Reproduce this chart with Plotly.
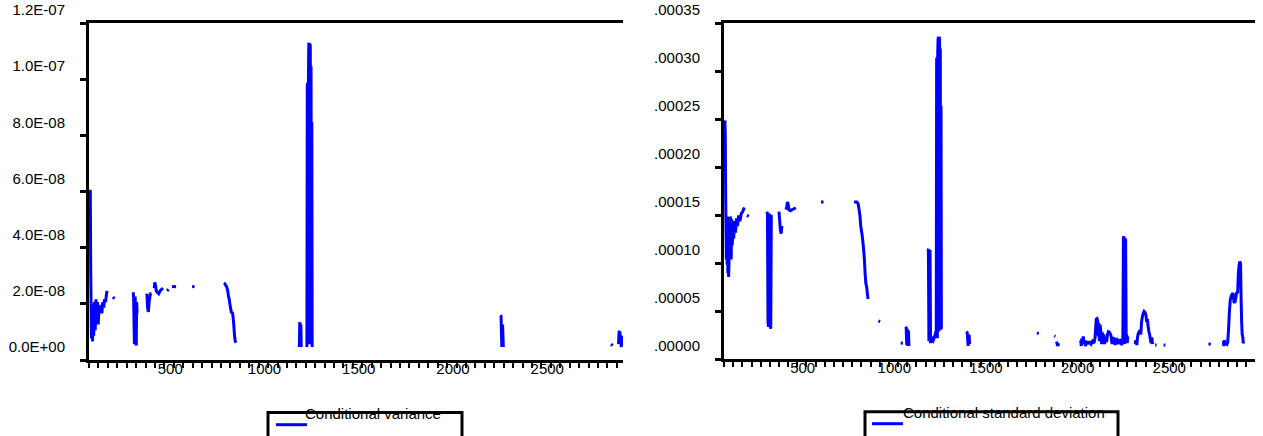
import plotly.graph_objects as go

# ---------------- data ----------------
# Conditional variance (left panel); None = missing observations (gaps)
var_obs = [76, 77, 79, 81, 83, 86, 89, 92, 95, 99, 103, 107, 111, 115, 119, 123, 128, 133, 138, 143, 148, 153, 158, 163, 166, None,
           197, 205, None,
           305, 307, 309, 311, 313, 315, 317, 319, 321, 323, 325, None,
           377, 381, 385, 389, 393, 397, 401, None,
           416, 419, 423, 427, 432, 440, 447, 455, 462, None,
           484, 492, None,
           510, 532, None,
           617, 630, None,
           786, 790, 795, 800, 806, 810, 814, 818, 822, 826, 830, 834, 838, 842, 846, 850, None,
           1186, 1188, 1190, 1192, 1194, 1196, None,
           1226, 1228, 1230, 1232, 1234, 1236, 1238, 1240, 1242, 1244, 1246, 1248, 1250, 1252, 1254, None,
           2252, 2256, 2260, 2264, 2268, None,
           2840, 2848, None,
           2879, 2882, 2886, 2890, 2894, 2898, 2902]
var_vals = [5.6e-8, 5.5e-8, 2.8e-8, 1.6e-8, 3e-9, 1.3e-8, 2e-9, 1.5e-8, 4e-9, 1.6e-8, 6e-9, 1.7e-8, 1.0e-8, 1.6e-8, 8e-9, 1.4e-8, 1.2e-8, 1.5e-8, 1.2e-8, 1.6e-8, 1.4e-8, 1.7e-8, 1.6e-8, 1.9e-8, 2.0e-8, None,
            1.78e-8, 1.72e-8, None,
            1.95e-8, 1.7e-8, 8e-9, 1e-9, 1.5e-8, 1.8e-8, 1.0e-8, 2e-9, 5e-10, 1.6e-8, 1.2e-8, None,
            1.9e-8, 1.4e-8, 1.25e-8, 1.6e-8, 1.8e-8, 1.9e-8, 1.9e-8, None,
            2.1e-8, 2.3e-8, 2.2e-8, 2.0e-8, 1.95e-8, 1.9e-8, 2.0e-8, 2.05e-8, 2.1e-8, None,
            2.0e-8, 2.05e-8, None,
            2.15e-8, 2.15e-8, None,
            2.15e-8, 2.15e-8, None,
            2.28e-8, 2.26e-8, 2.2e-8, 2.15e-8, 2.0e-8, 1.8e-8, 1.7e-8, 1.5e-8, 1.35e-8, 1.2e-8, 1.25e-8, 1.1e-8, 8e-9, 4e-9, 2e-9, 1.5e-9, None,
            0.0, 8.5e-9, 8.6e-9, 2e-10, 8e-9, 0.0, None,
            0.0, 9.3e-8, 9.4e-8, 2e-9, 9.5e-8, 1.08e-7, 1.082e-7, 1e-9, 1.08e-7, 1.07e-7, 5e-9, 1.0e-7, 3e-9, 8e-8, 0.0, None,
            1.13e-8, 1.1e-8, 0.0, 8e-9, 0.0, None,
            1.0e-9, 5e-10, None,
            1e-9, 5.3e-9, 5.5e-9, 3e-9, 0.0, 4e-9, 1e-9]

# Conditional standard deviation (right panel)
sd_obs = [73, 75, 77, 79, 81, 83, 85, 87, 89, 91, 93, 95, 98, 101, 104, 107, 110, 113, 117, 121, 126, 131, 136, 142, 148, 155, 162, 170, 176, 182, None,
          193, 203, None,
          302, 305, 308, 311, 314, 317, 320, 323, 326, 328, None,
          368, 372, 376, 380, 384, None,
          406, 410, 414, 418, 422, 430, 440, 450, 460, None,
          597, 611, None,
          777, 785, 793, 800, 805, 810, 814, 818, 822, 826, 830, 834, 838, 842, 846, 850, 854, None,
          910, 920, None,
          1032, 1044, None,
          1059, 1062, 1065, 1068, 1071, 1074, 1077, None,
          1180, 1183, 1186, 1189, 1192, 1195, 1198, 1202, 1208, 1214, 1220, 1224,
          1226, 1228, 1230, 1232, 1234, 1236, 1238, 1240, 1242, 1244, 1246, 1248, 1250, 1252, 1254, None,
          1390, 1395, 1400, 1405, 1408, None,
          1775, 1785, None,
          1870, 1876, None,
          1882, 1888, 1894, None,
          2014, 2017, 2020, 2024, 2028, 2032, 2036, 2040, 2046, 2054, 2062, 2070, 2078, 2086, 2092, 2096, 2099, 2103, 2107, 2110,
          2113, 2116, 2120, 2124, 2128, 2132, 2136, 2140, 2144, 2150, 2155, 2160, 2165, 2170, 2175, 2180, 2185, 2190, 2196, 2202,
          2208, 2214, 2220, 2226, 2232, 2238, 2244, 2247, 2250, 2253, 2256, 2259, 2262, 2265, 2268, 2271, None,
          2311, 2315, 2320, 2324, 2328, 2333, 2338, 2342, 2346, 2350, 2355, 2360, 2365, 2370, 2374, 2378, 2382, 2386, 2390, 2394,
          2398, 2402, 2406, None,
          2420, 2428, None,
          2466, 2476, None,
          2711, 2724, None,
          2792, 2795, 2798, 2802, 2806, 2812, 2816, 2820, 2825, 2830, 2835, 2840, 2845, 2850, 2855, 2860, 2865, 2870, 2874, 2878,
          2882, 2886, 2889, 2892, 2895, 2898, 2901, 2903]
sd_vals = [2.35e-4, 2.2e-4, 1.6e-4, 1.2e-4, 9.0e-5, 1.3e-4, 8.5e-5, 1.35e-4, 7.6e-5, 1.1e-4, 7.2e-5, 8.5e-5, 1.3e-4, 1.0e-4, 1.35e-4, 9.0e-5, 1.32e-4, 1.05e-4, 1.25e-4, 1.12e-4, 1.3e-4, 1.18e-4, 1.33e-4, 1.25e-4, 1.36e-4, 1.3e-4, 1.38e-4, 1.4e-4, 1.43e-4, 1.44e-4, None,
           1.36e-4, 1.35e-4, None,
           1.4e-4, 1.38e-4, 2.5e-5, 2.0e-5, 1.35e-4, 1.38e-4, 2.2e-5, 1.8e-5, 1.36e-4, 1.35e-4, None,
           1.4e-4, 1.3e-4, 1.2e-4, 1.17e-4, 1.25e-4, None,
           1.42e-4, 1.45e-4, 1.5e-4, 1.48e-4, 1.42e-4, 1.41e-4, 1.42e-4, 1.43e-4, 1.44e-4, None,
           1.5e-4, 1.5e-4, None,
           1.5e-4, 1.5e-4, 1.5e-4, 1.48e-4, 1.42e-4, 1.35e-4, 1.25e-4, 1.2e-4, 1.15e-4, 1.08e-4, 1.0e-4, 9.0e-5, 7.5e-5, 6.5e-5, 6.2e-5, 5.5e-5, 4.9e-5, None,
           2.6e-5, 2.55e-5, None,
           3e-6, 3e-6, None,
           2.0e-5, 1.9e-5, 1e-6, 1.8e-5, 0.0, 1.6e-5, 0.0, None,
           1.0e-4, 1.01e-4, 5e-6, 9.8e-5, 1.0e-4, 3e-6, 1.0e-5, 6e-6, 5e-6, 8e-6, 1.2e-5, 1.5e-5,
           1.0e-5, 2.99e-4, 3.0e-4, 8e-6, 3.05e-4, 3.2e-4, 3.22e-4, 1.5e-5, 3.22e-4, 3.2e-4, 2e-5, 3.1e-4, 1.7e-5, 2.5e-4, 1.8e-5, None,
           1.5e-5, 1.4e-5, 0.0, 1.2e-5, 2e-6, None,
           1.35e-5, 1.3e-5, None,
           1.05e-5, 1.0e-5, None,
           4.5e-6, 0.0, 3e-6, None,
           6e-6, 0.0, 8e-6, 2e-6, 1.0e-5, 3e-6, 5e-6, 0.0, 4e-6, 3e-6, 4e-6, 2e-6, 5e-6, 3e-6, 8e-6, 2.0e-5, 2.8e-5, 2.85e-5, 2.6e-5, 1.0e-5,
           2.4e-5, 5e-6, 2.2e-5, 1.5e-5, 2e-6, 1.4e-5, 8e-6, 1.2e-5, 2e-6, 8e-6, 4e-6, 1.2e-5, 1.5e-5, 1.45e-5, 1.3e-5, 1.0e-5, 2e-6, 9e-6, 7e-6, 1e-6,
           8e-6, 6e-6, 2e-6, 7e-6, 5e-6, 1e-6, 6e-6, 1.13e-4, 1.14e-4, 2e-6, 1.12e-4, 1.1e-4, 1.0e-5, 1.2e-5, 3e-6, 1.0e-5, None,
           2e-6, 6e-6, 1e-6, 9e-6, 1.3e-5, 1.5e-5, 1.6e-5, 1.2e-5, 2.5e-5, 3.0e-5, 3.4e-5, 3.6e-5, 3.5e-5, 3.2e-5, 2.5e-5, 2.8e-5, 2.0e-5, 1.5e-5, 1.2e-5, 7e-6,
           3e-6, 9e-6, 2e-6, None,
           1e-6, 1e-6, None,
           1e-6, 1e-6, None,
           2e-6, 2e-6, None,
           5e-6, 0.0, 6e-6, 1e-6, 3e-6, 2e-6, 4e-6, 1.5e-5, 3.5e-5, 4.8e-5, 5.2e-5, 5.4e-5, 5.5e-5, 4.6e-5, 4.5e-5, 5.0e-5, 5.6e-5, 5.5e-5, 7.5e-5, 8.4e-5,
           8.8e-5, 8.6e-5, 5.0e-5, 2.5e-5, 1.2e-5, 1.0e-5, 3e-6, 4e-6]

var_tick_values = [0.0, 2e-8, 4e-8, 6e-8, 8e-8, 1.0e-7, 1.2e-7]
var_tick_labels = ["0.0E+00", "2.0E-08", "4.0E-08", "6.0E-08", "8.0E-08", "1.0E-07", "1.2E-07"]
sd_tick_values = [0.0, 5e-5, 1.0e-4, 1.5e-4, 2.0e-4, 2.5e-4, 3.0e-4, 3.5e-4]
sd_tick_labels = [".00000", ".00005", ".00010", ".00015", ".00020", ".00025", ".00030", ".00035"]
x_tick_values = [500, 1000, 1500, 2000, 2500]
x_tick_labels = ["500", "1000", "1500", "2000", "2500"]
legend_labels = ["Conditional variance", "Conditional standard deviation"]

# ---------------- layout geometry ----------------
W, H = 1263, 436
TXT = 13            # text layer offset (px) seen in the original
FONT = dict(family="Liberation Sans, Arial, sans-serif", size=15, color="black")
BLUE = "#0000FF"


def PX(x):
    return x / W


def PY(y):
    return 1 - y / H


panels = [
    # plot-area pixel box, x range start, px per obs, y tick step, n steps
    dict(x0=89, x1=623, y0=23, y1=360, xr0=70, ppo=0.1885, step=2e-8, nstep=6,
         ticks=var_tick_values, labels=var_tick_labels),
    dict(x0=724, x1=1255, y0=23, y1=359, xr0=68, ppo=0.1833, step=5e-5, nstep=7,
         ticks=sd_tick_values, labels=sd_tick_labels),
]

fig = go.Figure()
fig.add_trace(go.Scatter(x=var_obs, y=var_vals, mode="lines", xaxis="x", yaxis="y",
                         line=dict(color=BLUE, width=3, simplify=False), connectgaps=False,
                         name=legend_labels[0], showlegend=False))
fig.add_trace(go.Scatter(x=sd_obs, y=sd_vals, mode="lines", xaxis="x2", yaxis="y2",
                         line=dict(color=BLUE, width=3, simplify=False), connectgaps=False,
                         name=legend_labels[1], showlegend=False))

layout = dict(width=W, height=H, margin=dict(l=0, r=0, t=0, b=0),
              paper_bgcolor="white", plot_bgcolor="white", font=FONT, showlegend=False)

for i, p in enumerate(panels):
    sfx = "" if i == 0 else str(i + 1)
    wpx = p["x1"] - p["x0"]
    hpx = p["y1"] - p["y0"]
    xr1 = p["xr0"] + wpx / p["ppo"]
    yoff = TXT * p["step"] * p["nstep"] / hpx
    yr = [-yoff, p["step"] * p["nstep"] - yoff]
    layout["xaxis" + sfx] = dict(
        domain=[PX(p["x0"]), PX(p["x1"])], range=[p["xr0"], xr1], anchor="y" + sfx,
        showgrid=False, zeroline=False, showline=True, linewidth=3, linecolor="black", mirror=True,
        tickmode="array", tickvals=[v + p["xr0"] for v in x_tick_values], ticktext=x_tick_labels,
        ticks="outside", ticklen=5, tickwidth=2, tickcolor="black",
        ticklabelshift=-TXT, ticklabelstandoff=-12, automargin=False, tickfont=FONT,
        minor=dict(tick0=p["xr0"], dtick=50, ticks="outside", ticklen=5, tickwidth=2,
                   tickcolor="black", showgrid=False),
    )
    layout["yaxis" + sfx] = dict(
        domain=[PY(p["y1"]), PY(p["y0"])], range=yr, anchor="x" + sfx,
        showgrid=False, zeroline=False, showline=True, linewidth=3, linecolor="black", mirror=False,
        tickmode="array", tickvals=[v - yoff for v in p["ticks"]], ticktext=p["labels"],
        ticks="outside", ticklen=6, tickwidth=3, tickcolor="black",
        ticklabelshift=-TXT, ticklabelstandoff=12, automargin=False, tickfont=FONT,
    )

# legend boxes drawn like the original (box, sample line, label)
legend_boxes = [
    dict(bx0=268, bx1=462, by=412.5, lx0=276, lx1=307, ly=424.7, tx=373, ty=413),
    dict(bx0=865, bx1=1118, by=411.7, lx0=872, lx1=903, ly=423.7, tx=1004, ty=412),
]
shapes, annotations = [], []
for lb, text in zip(legend_boxes, legend_labels):
    shapes.append(dict(type="rect", xref="paper", yref="paper",
                       x0=PX(lb["bx0"]), x1=PX(lb["bx1"]), y0=PY(lb["by"]), y1=PY(460),
                       line=dict(color="black", width=3), fillcolor="rgba(0,0,0,0)"))
    shapes.append(dict(type="line", xref="paper", yref="paper",
                       x0=PX(lb["lx0"]), x1=PX(lb["lx1"]), y0=PY(lb["ly"]), y1=PY(lb["ly"]),
                       line=dict(color=BLUE, width=3)))
    annotations.append(dict(text=text, xref="paper", yref="paper", x=PX(lb["tx"]), y=PY(lb["ty"]),
                            xanchor="center", yanchor="middle", showarrow=False, font=FONT))
layout["shapes"] = shapes
layout["annotations"] = annotations

fig.update_layout(**layout)
fig.write_html("out.html", config={"displayModeBar": False, "staticPlot": True},
               post_script="document.body.style.margin='0';document.body.style.overflow='hidden';")
